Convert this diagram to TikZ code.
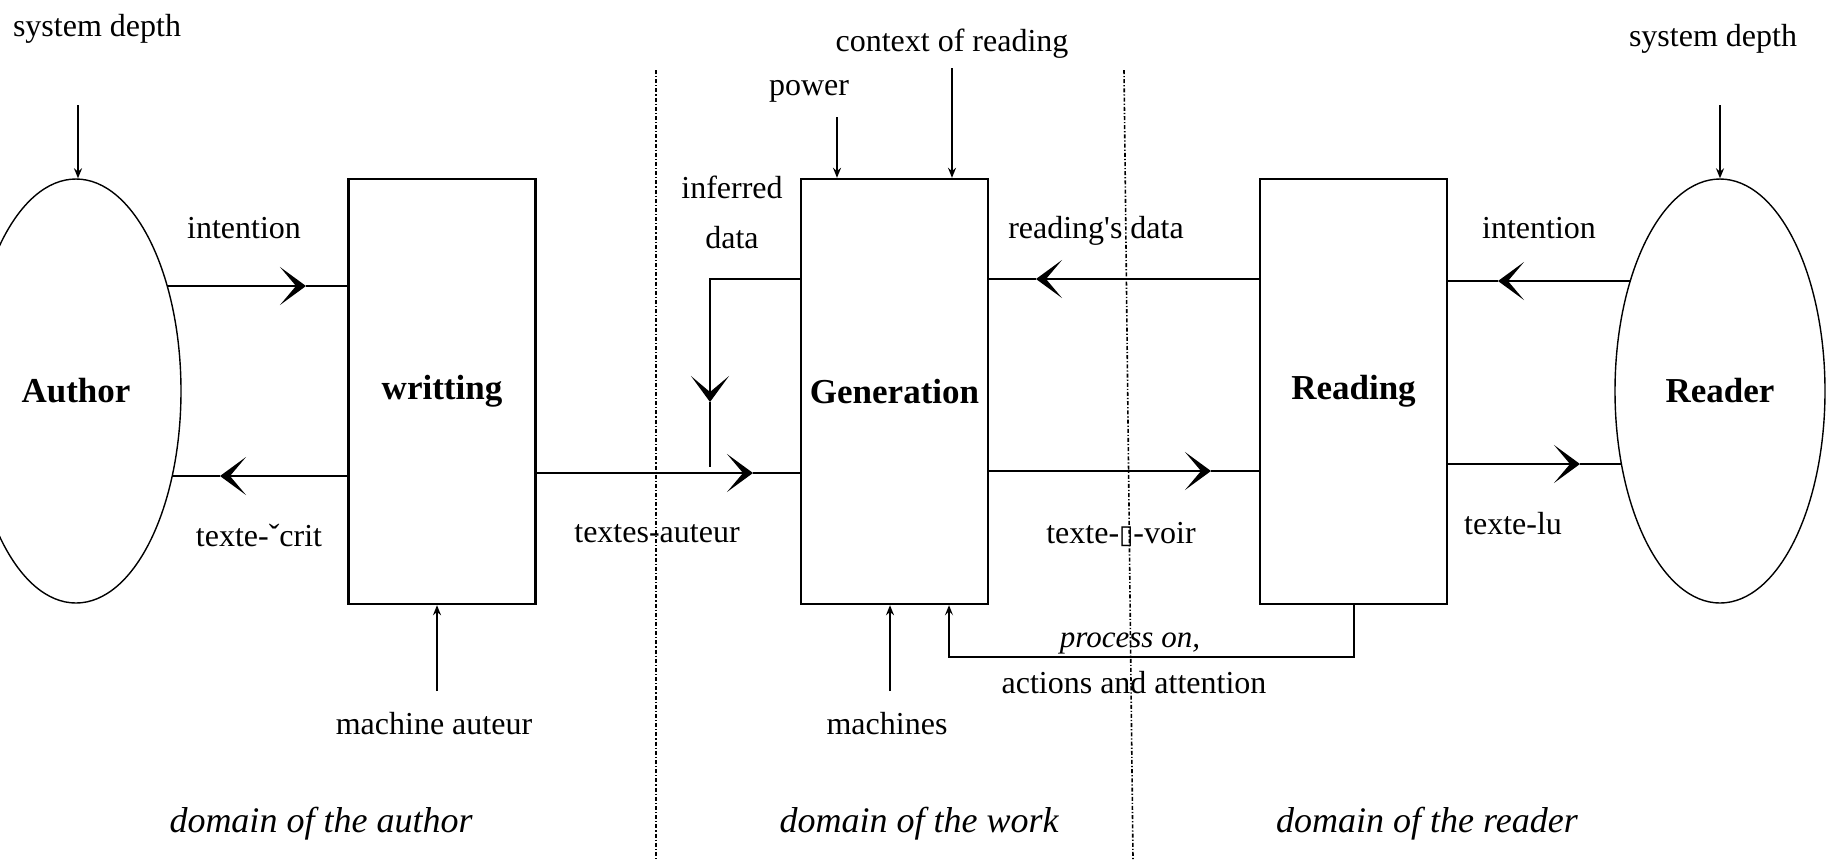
\documentclass[tikz,border=0pt]{standalone}
\usepackage{fontspec}
\setmainfont{Liberation Serif}[Ligatures=TeXOff]
\newfontfamily\symfont{DejaVu Sans}
\usetikzlibrary{arrows.meta,shapes.geometric,calc}
\begin{document}
\begin{tikzpicture}[x=0.5pt,y=-0.5pt,
  box/.style={draw,line width=1.2pt,minimum width=93.5pt,minimum height=212.5pt,inner sep=0pt,font=\fontsize{17.5}{20}\selectfont\bfseries},
  oval/.style={ellipse,draw,line width=0.7pt,minimum width=105pt,minimum height=212pt,inner sep=0pt,font=\fontsize{17.5}{20}\selectfont\bfseries},
  con/.style={line width=1.4pt},
  bighead/.style={-{Stealth[length=13pt,width=19pt,inset=8pt]}},
  thinarrow/.style={line width=0.8pt,-{Stealth[length=5pt,width=4pt]}},
  loopline/.style={line width=1pt,-{Stealth[length=5pt,width=4pt,inset=2pt]}},
  lbl/.style={font=\fontsize{16}{25}\selectfont,inner sep=0pt,align=center},
  ilbl/.style={font=\fontsize{15.5}{18}\selectfont\itshape,inner sep=0pt},
  dom/.style={font=\fontsize{18}{20}\selectfont\itshape,inner sep=0pt},
  divider/.style={line width=0.8pt,dash pattern=on 2pt off 1pt on 0.6pt off 1pt}]
\useasboundingbox (0,0) rectangle (1831,859);
\fill[white] (0,0) rectangle (1831,859);

% dividers
\coordinate (d1t) at (656,70);  \coordinate (d1b) at (656,859);
\coordinate (d2t) at (1124,70); \coordinate (d2b) at (1133,859);
\draw[divider] (d1t) -- (d1b);
\draw[divider] (d2t) -- (d2b);

% main shapes
\node[oval] (author) at (76,391) {Author};
\node[box] (writ) at (442,391.5) {writting};
\node[box] (gen) at (894.5,391.5) {Generation};
\node[box] (read) at (1353.5,391.5) {Reading};
\node[oval] (reader) at (1720,391) {Reader};

% labels
\node[lbl] (sdL) at (97,29) {system depth};
\node[lbl] (sdR) at (1713,39) {system depth};
\node[lbl] (ctx) at (952,44) {context of reading};
\node[lbl] (pow) at (809,91) {power};
\node[lbl] (inf) at (732,212) {inferred\\data};
\node[lbl] (intL) at (244,228) {intention};
\node[lbl] (intR) at (1539,228) {intention};
\node[lbl] (rdata) at (1096,231) {reading's data};
\node[lbl] (tecrit) at (259,536) {texte-ˇcrit};
\node[lbl] (taut) at (657,534) {textes-auteur};
\node[lbl] (tvoir) at (1121,534) {texte-{\symfont\fontsize{13}{16}\selectfont ▯}-voir};
\node[lbl] (tlu) at (1513,524) {texte-lu};
\node[lbl] (mach) at (434,724) {machine auteur};
\node[lbl] (machs) at (887,724) {machines};
\node[ilbl] (proc) at (1130,643) {process on,};
\node[lbl] (act) at (1134,683) {actions and attention};
\node[dom] (domA) at (321,824) {domain of the author};
\node[dom] (domW) at (919,824) {domain of the work};
\node[dom] (domR) at (1427,824) {domain of the reader};

% small vertical input arrows
\coordinate (aL) at (78,105);
\draw[thinarrow] (aL) -- (aL |- author.north);
\coordinate (aR) at (1720,105);
\draw[thinarrow] (aR) -- (aR |- reader.north);
\coordinate (aP) at (837,117);
\draw[thinarrow] (aP) -- (aP |- gen.north);
\coordinate (aC) at (952,68);
\draw[thinarrow] (aC) -- (aC |- gen.north);
\coordinate (aM) at (437,691);
\draw[thinarrow] (aM) -- (aM |- writ.south);
\coordinate (aMs) at (890,691);
\draw[thinarrow] (aMs) -- (aMs |- gen.south);

% intention (author -> writting)
\coordinate (tA) at (306,286);
\draw[con,bighead] (author.49 |- tA) -- (tA);
\draw[con] (tA) -- (writ.west |- tA);

% texte-crit (writting -> author)
\coordinate (tB) at (220,476);
\draw[con,bighead] (writ.west |- tB) -- (tB);
\draw[con] (tB) -- (author.-41.5 |- tB);

% textes-auteur (writting -> generation)
\coordinate (tC) at (753,473);
\draw[con,bighead] (writ.east |- tC) -- (tC);
\draw[con] (tC) -- (gen.west |- tC);

% inferred data loop
\coordinate (iA) at (710,279);
\coordinate (iB) at (710,402);
\coordinate (iC) at (710,467);
\draw[con,bighead] (gen.west |- iA) -- (iA) -- (iB);
\draw[con] (iB) -- (iC);

% reading's data (reading -> generation)
\coordinate (rD) at (1036,279);
\draw[con,bighead] (read.west |- rD) -- (rD);
\draw[con] (rD) -- (gen.east |- rD);

% texte-a-voir (generation -> reading)
\coordinate (tV) at (1211,471);
\draw[con,bighead] (gen.east |- tV) -- (tV);
\draw[con] (tV) -- (read.west |- tV);

% intention (reader -> reading)
\coordinate (tI) at (1498,281);
\draw[con,bighead] (reader.129.2 |- tI) -- (tI);
\draw[con] (tI) -- (read.east |- tI);

% texte-lu (reading -> reader)
\coordinate (tL) at (1580,464);
\draw[con,bighead] (read.east |- tL) -- (tL);
\draw[con] (tL) -- (reader.216.5 |- tL);

% process loop (reading -> generation)
\coordinate (p1) at (1352,657);
\coordinate (p2) at (949,657);
\draw[loopline] (read.south) -- (read.south |- p1) -- (p2) -- (p2 |- gen.south);
\end{tikzpicture}
\end{document}
